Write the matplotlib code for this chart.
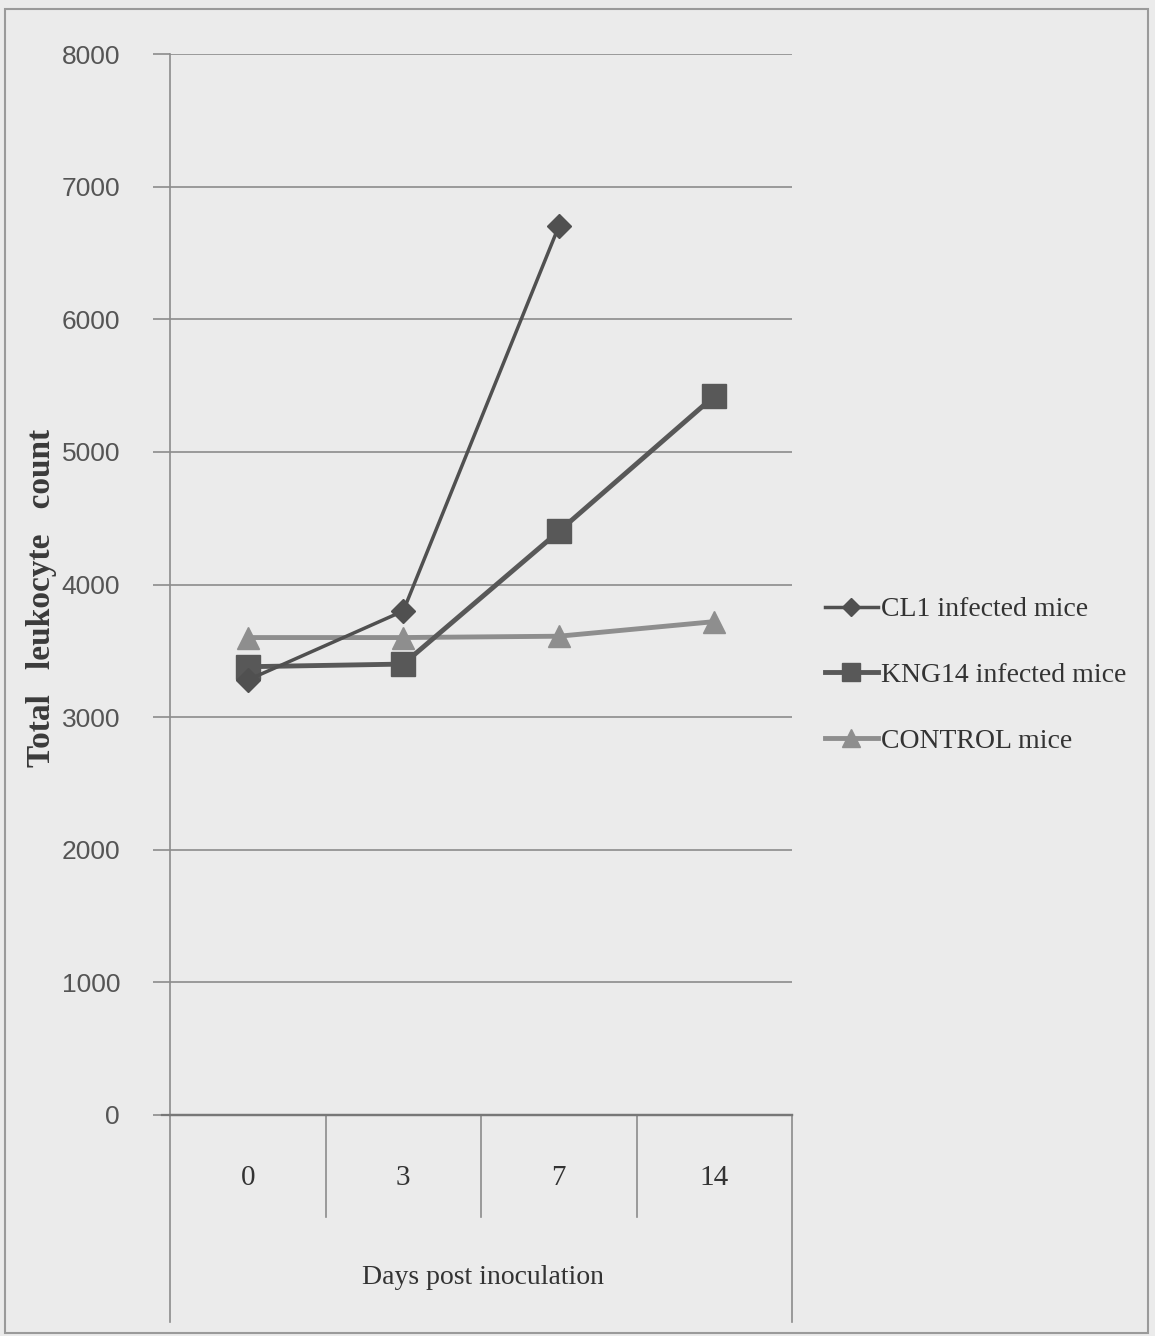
import numpy as np
import matplotlib
matplotlib.use("Agg")
import matplotlib.pyplot as plt
import matplotlib.transforms as mtransforms
from matplotlib.patches import Rectangle

# data
days = ["0", "3", "7", "14"]
cl1 = [3280, 3800, 6700, np.nan]
kng14 = [3380, 3400, 4400, 5420]
control = [3600, 3600, 3610, 3720]
y_ticks = [0, 1000, 2000, 3000, 4000, 5000, 6000, 7000, 8000]

bg = "#ebebeb"
grid_col = "#8c8c8c"
serif = ["Liberation Serif", "DejaVu Serif"]
sans = ["Liberation Sans", "DejaVu Sans"]

fig = plt.figure(figsize=(11.55, 13.36), dpi=100, facecolor=bg)
ax = fig.add_axes([170 / 1155, 1 - 1115 / 1336, 622 / 1155, 1061 / 1336])
ax.set_facecolor(bg)

x = np.arange(len(days))
ax.plot(x, cl1, color="#505050", lw=2.5, marker="D", ms=12,
        label="CL1 infected mice", zorder=4)
ax.plot(x, kng14, color="#585858", lw=3.5, marker="s", ms=17,
        label="KNG14 infected mice", zorder=3)
ax.plot(x, control, color="#8e8e8e", lw=3.5, marker="^", ms=16,
        label="CONTROL mice", zorder=2)

ax.set_xlim(-0.5, 3.5)
ax.set_ylim(0, 8000)
ax.set_yticks(y_ticks)
ax.set_yticklabels([str(v) for v in y_ticks], family=sans, fontsize=19,
                   color="#555555")
ax.tick_params(axis="y", length=12, width=1.2, color=grid_col, pad=24)
ax.grid(axis="y", color=grid_col, lw=1.2)
ax.set_axisbelow(True)

ax.set_xticks(x)
ax.set_xticklabels(days, family=serif, fontsize=21, color="#333333")
ax.tick_params(axis="x", length=0, pad=36)

for s in ["top", "right"]:
    ax.spines[s].set_visible(False)
ax.spines["left"].set_color(grid_col)
ax.spines["left"].set_linewidth(1.2)
ax.spines["bottom"].set_color("#777777")
ax.spines["bottom"].set_linewidth(1.6)

# category table under the axis
tr = mtransforms.blended_transform_factory(ax.transData, ax.transAxes)
for xb in [0.5, 1.5, 2.5]:
    ax.plot([xb, xb], [0, -0.096], transform=tr, color=grid_col, lw=1.2,
            clip_on=False)
for xb in [-0.5, 3.5]:
    ax.plot([xb, xb], [0, -0.195], transform=tr, color=grid_col, lw=1.2,
            clip_on=False)
ax.plot([-0.55, 3.5], [0, 0], transform=tr, color="#777777", lw=1.6,
        clip_on=False)

fig.text(483 / 1155, 1 - 1278 / 1336, "Days post inoculation", family=serif,
         fontsize=20, color="#333333", ha="center", va="center")
fig.text(42 / 1155, 1 - 598 / 1336, "Total   leukocyte   count", family=serif,
         fontsize=24, fontweight="bold", color="#3a3a3a", rotation=90,
         ha="center", va="center")

ax.legend(loc="upper left", bbox_to_anchor=(800 / 1155, 1 - 572 / 1336),
          bbox_transform=fig.transFigure, frameon=False, prop={"family": serif, "size": 20},
          handlelength=1.9, handletextpad=0.1, labelspacing=1.45, markerscale=0.8,
          labelcolor="#333333")

# scanned page border
fig.patches.append(Rectangle((5 / 1155, 0.002), 1143 / 1155, 1 - 12 / 1336,
                             transform=fig.transFigure, fill=False,
                             edgecolor="#9a9a9a", lw=1.5))

fig.savefig("out.png", dpi=100, facecolor=bg)
